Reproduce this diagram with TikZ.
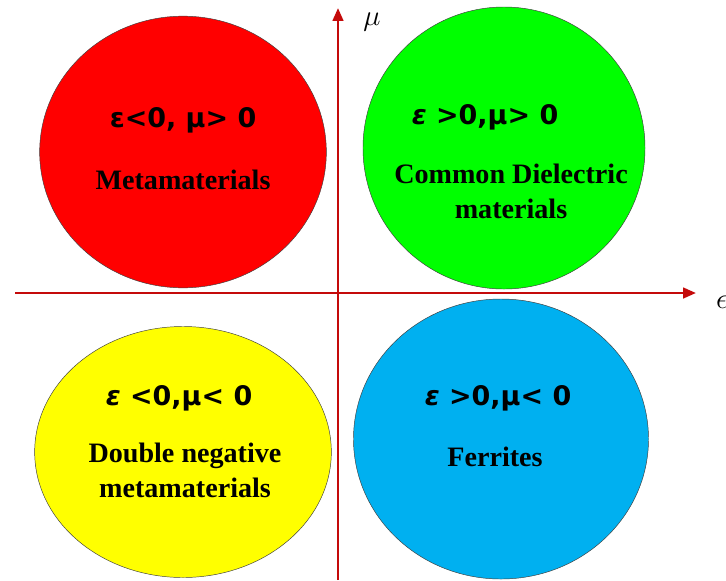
\documentclass[tikz,border=0pt]{standalone}
\usepackage{fontspec}
\setmainfont{Liberation Serif}
\setsansfont{DejaVu Sans}
\usepackage{tikz}
\usetikzlibrary{arrows.meta,shapes.geometric}

\definecolor{metared}{RGB}{255,0,0}
\definecolor{dielgreen}{RGB}{0,255,0}
\definecolor{dnyellow}{RGB}{255,255,0}
\definecolor{ferblue}{RGB}{0,176,240}
\definecolor{axisred}{RGB}{196,10,10}

\begin{document}
\begin{tikzpicture}[
  x=0.03cm, y=-0.03cm,
  disc/.style={draw=black!75, thin, ellipse, inner sep=0pt},
  cond/.style={font=\sffamily\bfseries\fontsize{23}{28}\selectfont},
  kind/.style={font=\bfseries\fontsize{24}{30}\selectfont, align=center},
  axis/.style={-{Triangle[length=11pt,width=9pt]}, draw=axisred, line width=2.2pt}
]
\useasboundingbox (0,0) rectangle (726,580);

% the four quadrants
\node[disc, fill=metared, minimum width=8.6cm, minimum height=8.15cm] (red) at (183,152) {};
\node[disc, fill=dielgreen, minimum width=8.46cm, minimum height=8.46cm] (green) at (504,148) {};
\node[disc, fill=dnyellow, minimum width=8.9cm, minimum height=7.53cm] (yellow) at (183,452) {};
\node[disc, fill=ferblue, minimum width=8.85cm, minimum height=8.4cm] (blue) at (501,439) {};

\node[cond] (redcond) at (183,120) {ε<0, μ> 0};
\node[kind] (redkind) at (183,180) {Metamaterials};
\node[cond] (greencond) at (485,117) {{\itshape ε} >0,μ> 0};
\node[kind] (greenkind) at (511,191) {Common Dielectric\\materials};
\node[cond] (yellowcond) at (179,398) {{\itshape ε} <0,μ< 0};
\node[kind] (yellowkind) at (185,470) {Double negative\\metamaterials};
\node[cond] (bluecond) at (498,398) {{\itshape ε} >0,μ< 0};
\node[kind] (bluekind) at (495,457) {Ferrites};

% axes
\coordinate (west) at (15,293);
\coordinate (east) at (696,293);
\coordinate (south) at (338,580);
\coordinate (north) at (338,8);
\draw[axis] (west) -- (east);
\draw[axis] (south) -- (north);
\node[font=\fontsize{26}{30}\selectfont] (mulabel) at (372,22) {$\mu$};
\node[font=\fontsize{26}{30}\selectfont] (epslabel) at (722,302) {$\epsilon$};
\end{tikzpicture}
\end{document}
